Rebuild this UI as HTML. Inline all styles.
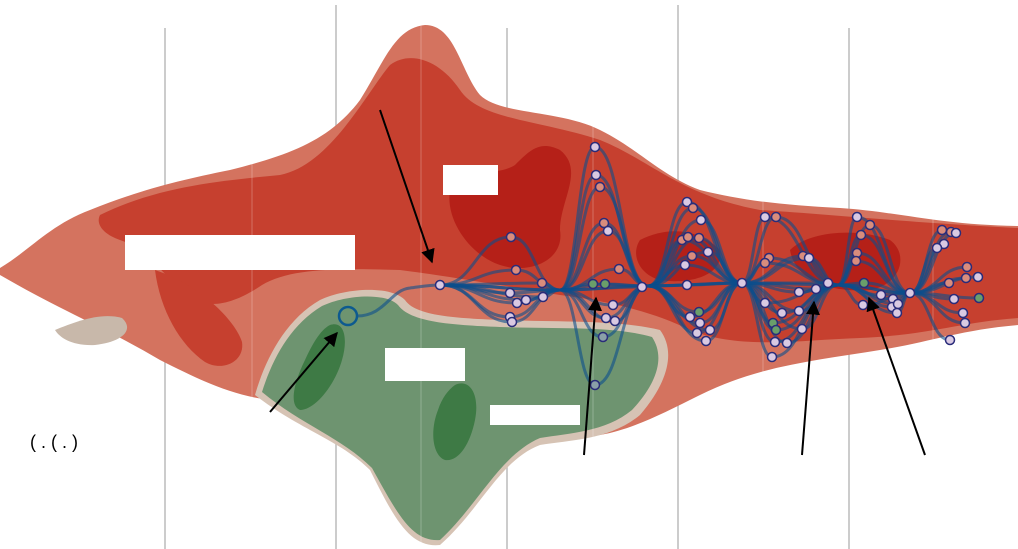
<!DOCTYPE html>
<html><head><meta charset="utf-8"><style>
html,body{margin:0;padding:0;background:#fff;}
svg{display:block;font-family:"Liberation Sans",sans-serif;}
</style></head><body>
<svg id="fig" width="1018" height="549" viewBox="0 0 1018 549" xmlns="http://www.w3.org/2000/svg">
<defs><marker id="ah" viewBox="0 0 10 10" refX="9" refY="5" markerWidth="7" markerHeight="7" orient="auto"><path d="M0,0 L10,5 L0,10 z" fill="#000"/></marker></defs>
<g stroke="#bcbcbc" stroke-width="1.5">
<line x1="165" y1="28" x2="165" y2="549"/><line x1="336" y1="5" x2="336" y2="549"/><line x1="507" y1="28" x2="507" y2="549"/><line x1="678" y1="5" x2="678" y2="549"/><line x1="849" y1="28" x2="849" y2="549"/>
</g>
<path fill="#d4735f" d="M0,268 C30,250 50,225 90,210 C140,190 180,180 230,170 C290,155 330,140 360,100 C385,60 395,28 425,25 C455,25 460,70 480,95 C500,115 560,110 600,130 C640,150 660,175 700,190 C740,200 780,205 840,208 C900,212 940,225 1018,226 L1018,325 C960,330 930,342 880,350 C820,360 760,365 700,395 C660,415 630,430 600,435 C560,440 470,450 430,430 C380,410 330,405 270,400 C230,395 200,380 160,360 C110,330 60,310 0,275 Z"/>
<path fill="#c8b8aa" d="M55,330 C75,322 100,312 122,318 C135,330 122,342 95,345 C72,346 60,338 55,330 Z"/>
<path fill="#c6402f" d="M100,215 C160,185 230,180 280,175 C330,165 365,95 390,65 C410,50 440,60 460,90 C480,120 540,120 600,140 C650,160 680,195 760,210 C840,215 900,222 1018,228 L1018,318 C960,322 930,335 860,338 C800,340 740,350 690,330 C650,310 600,300 560,295 C500,285 440,275 400,270 C340,268 290,268 262,285 C240,300 215,310 195,300 C170,285 150,250 120,240 C105,235 95,225 100,215 Z"/>
<path fill="#c6402f" d="M155,270 C200,285 235,320 242,342 C245,362 222,372 205,362 C180,345 160,310 155,270 Z"/>
<path fill="#b52018" d="M450,190 C470,170 500,175 515,165 C530,150 540,140 560,150 C585,170 560,200 560,230 C565,260 530,275 500,265 C470,255 445,220 450,190 Z"/>
<path fill="#b52018" d="M640,240 C670,225 700,230 720,250 C725,275 690,285 660,280 C640,275 630,255 640,240 Z"/>
<path fill="#b52018" d="M790,250 C810,230 860,228 890,240 C910,255 900,285 870,290 C830,293 795,280 790,250 Z"/>
<path fill="#d6c3b4" d="M255,395 C265,360 285,320 320,300 C345,288 390,285 405,300 C415,315 450,318 500,320 C560,322 620,320 660,330 C675,350 670,380 640,415 C610,440 570,440 540,445 C500,460 480,510 440,545 C410,548 395,520 370,470 C340,440 300,430 255,395 Z"/>
<path fill="#6e9470" d="M262,392 C272,360 290,325 322,306 C345,295 385,292 398,305 C410,322 450,325 500,327 C560,329 615,326 652,337 C664,355 660,380 632,410 C605,432 570,433 540,438 C500,455 478,505 440,540 C412,542 398,515 372,468 C342,438 302,425 262,392 Z"/>
<path fill="#3e7a45" d="M330,325 C345,320 348,340 342,360 C335,385 315,410 300,410 C288,405 295,380 305,360 C312,345 320,330 330,325 Z"/>
<path fill="#3e7a45" d="M455,385 C470,378 480,395 475,420 C470,445 458,462 445,460 C432,455 430,430 438,410 C442,398 448,390 455,385 Z"/>
<g stroke="#ffffff" stroke-opacity="0.25" stroke-width="1">
<line x1="252" y1="0" x2="252" y2="549"/><line x1="421" y1="0" x2="421" y2="549"/><line x1="593" y1="0" x2="593" y2="549"/><line x1="763" y1="0" x2="763" y2="549"/><line x1="933" y1="0" x2="933" y2="549"/>
</g>
<g id="edges" fill="none" stroke="#0b4f8c" stroke-opacity="0.6" stroke-width="3"></g>
<g id="nodes"></g>
<circle cx="348" cy="316" r="9" fill="none" stroke="#0d5a8f" stroke-width="2.5"/>
<g fill="#fff">
<rect x="125" y="235" width="230" height="35"/>
<rect x="443" y="165" width="55" height="30"/>
<rect x="385" y="348" width="80" height="33"/>
<rect x="490" y="405" width="90" height="20"/>
</g>
<g stroke="#000" stroke-width="2" marker-end="url(#ah)">
<line x1="380" y1="110" x2="432" y2="262"/>
<line x1="270" y1="412" x2="337" y2="333"/>
<line x1="584" y1="455" x2="596" y2="298"/>
<line x1="802" y1="455" x2="814" y2="302"/>
<line x1="925" y1="455" x2="869" y2="298"/>
</g>
<text x="30" y="448" font-size="18" fill="#000">(    .    (  .     )</text>
</svg>
<script>
const hubX = [440, 560, 648, 742, 838, 910];
const hubY = [285, 290, 286, 283, 285, 293];
const nodeX = [595,596,600,604,608,511,516,542,543,510,517,526,510,512,593,605,619,613,606,615,603,642,687,693,701,682,688,699,708,692,685,687,690,699,700,710,697,706,765,776,769,765,742,765,782,773,776,775,787,772,799,802,803,809,799,816,828,857,870,861,857,856,864,863,881,893,892,898,897,910,942,951,956,944,937,967,966,978,949,954,979,963,965,950,440,595];
const nodeY = [147,175,187,223,231,237,270,283,297,293,303,300,317,322,284,284,269,305,318,321,337,287,202,208,220,240,237,238,252,256,265,285,317,312,323,330,333,341,217,217,258,263,283,303,313,323,330,342,343,357,311,329,256,258,292,289,283,217,225,235,253,261,283,305,295,299,307,304,313,293,230,232,233,244,248,267,278,277,283,299,298,313,323,340,285,385];
const nodeType = ["l","l","s","s","l","s","s","s","l","l","l","l","l","l","g","g","s","l","l","l","x","l","l","s","l","s","s","s","l","s","l","l","l","g","l","l","l","l","l","s","s","s","l","l","l","g","g","l","l","l","l","l","s","l","l","l","l","l","s","s","s","s","g","l","l","l","l","l","l","l","s","s","l","l","l","s","s","l","s","l","g","l","l","l","l","x"];
const NS='http://www.w3.org/2000/svg';
const eg=document.getElementById('edges'), ng=document.getElementById('nodes');
function addPath(d){const p=document.createElementNS(NS,'path');p.setAttribute('d',d);


eg.appendChild(p);}
function curve(x1,y1,x2,y2){const m=(x2-x1)*0.5;return `M${x1},${y1} C${x1+m},${y1} ${x2-m},${y2} ${x2},${y2}`;}
addPath('M357,316 C385,316 390,290 410,288 C425,286 430,285 440,285');
for(let i=0;i<nodeX.length;i++){
  const x=nodeX[i],y=nodeY[i];
  let h=0;for(let k=0;k<hubX.length;k++){if(hubX[k]<x-3)h=k;}
  addPath(curve(hubX[h],hubY[h],x,y));
  if(h+1<hubX.length){addPath(curve(x,y,hubX[h+1],hubY[h+1]));}
}
for(let k=0;k<hubX.length-1;k++){addPath(curve(hubX[k],hubY[k],hubX[k+1],hubY[k+1]));}
const fills={l:'#d9c9e2',s:'#d98c7c',g:'#6a9e6a',x:'#8aa0a8'};
for(let i=0;i<nodeX.length;i++){
  const c=document.createElementNS(NS,'circle');
  c.setAttribute('cx',nodeX[i]);c.setAttribute('cy',nodeY[i]);c.setAttribute('r',4.5);
  c.setAttribute('fill',fills[nodeType[i]]);c.setAttribute('stroke','#2a2c7a');c.setAttribute('stroke-width','1.5');
  
  
  ng.appendChild(c);
}
</script>
</body></html>
